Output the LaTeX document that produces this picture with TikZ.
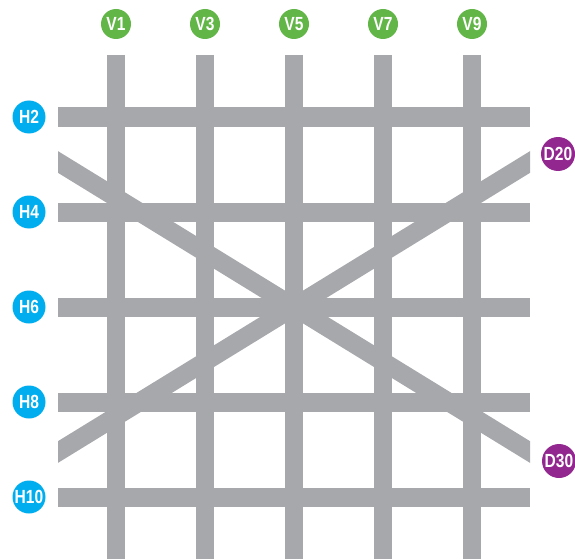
\documentclass[tikz,border=0pt]{standalone}
\usepackage{fontspec}
\newfontfamily\labfont[FakeStretch=0.82]{Liberation Sans}
\definecolor{bargray}{RGB}{167,168,172}
\definecolor{vgreen}{RGB}{98,182,72}
\definecolor{hblue}{RGB}{0,174,239}
\definecolor{dpurple}{RGB}{146,39,143}
\tikzset{
  vbar/.style={draw=bargray,line width=18pt,line cap=butt},
  hbar/.style={draw=bargray,line width=19pt,line cap=butt},
  dbar/.style={draw=bargray,line width=18.5pt,line cap=butt},
  lab/.style={circle,inner sep=0pt,text=white,font=\fontsize{19}{19}\labfont\bfseries\selectfont},
  vlab/.style={lab,fill=vgreen,minimum size=30pt},
  hlab/.style={lab,fill=hblue,minimum size=33pt},
  dlab/.style={lab,fill=dpurple,minimum size=34pt},
}
\begin{document}
\begin{tikzpicture}[x=1pt,y=-1pt]
\useasboundingbox (0,0) rectangle (575,559);
% labels
\node[vlab] (V1) at (116,24) {V1};
\node[vlab] (V3) at (205,24) {V3};
\node[vlab] (V5) at (294,24) {V5};
\node[vlab] (V7) at (383,24) {V7};
\node[vlab] (V9) at (472,24) {V9};
\node[hlab] (H2) at (29,117) {H2};
\node[hlab] (H4) at (29,212) {H4};
\node[hlab] (H6) at (29,307) {H6};
\node[hlab] (H8) at (29,402) {H8};
\node[hlab] (H10) at (29,497) {H10};
\node[dlab] (D20) at (558,154) {D20};
\node[dlab] (D30) at (559,461) {D30};
% bar end coordinates
\foreach \n/\x in {1/116,3/205,5/294,7/383,9/472}{
  \coordinate (v\n t) at (\x,55);
  \coordinate (v\n b) at (\x,559);
}
\foreach \n/\y in {2/117,4/212,6/307,8/402,10/497}{
  \coordinate (h\n l) at (58,\y);
  \coordinate (h\n r) at (530,\y);
}
\coordinate (d20a) at (38,464.3);
\coordinate (d20b) at (550,149.7);
\coordinate (d30a) at (38,149.7);
\coordinate (d30b) at (550,464.3);
% bars
\foreach \n in {1,3,5,7,9}{\draw[vbar] (v\n t) -- (v\n b);}
\foreach \n in {2,4,6,8,10}{\draw[hbar] (h\n l) -- (h\n r);}
\begin{scope}
  \clip (58,0) rectangle (530,559);
  \draw[dbar] (d20a) -- (d20b);
  \draw[dbar] (d30a) -- (d30b);
\end{scope}
\end{tikzpicture}
\end{document}
